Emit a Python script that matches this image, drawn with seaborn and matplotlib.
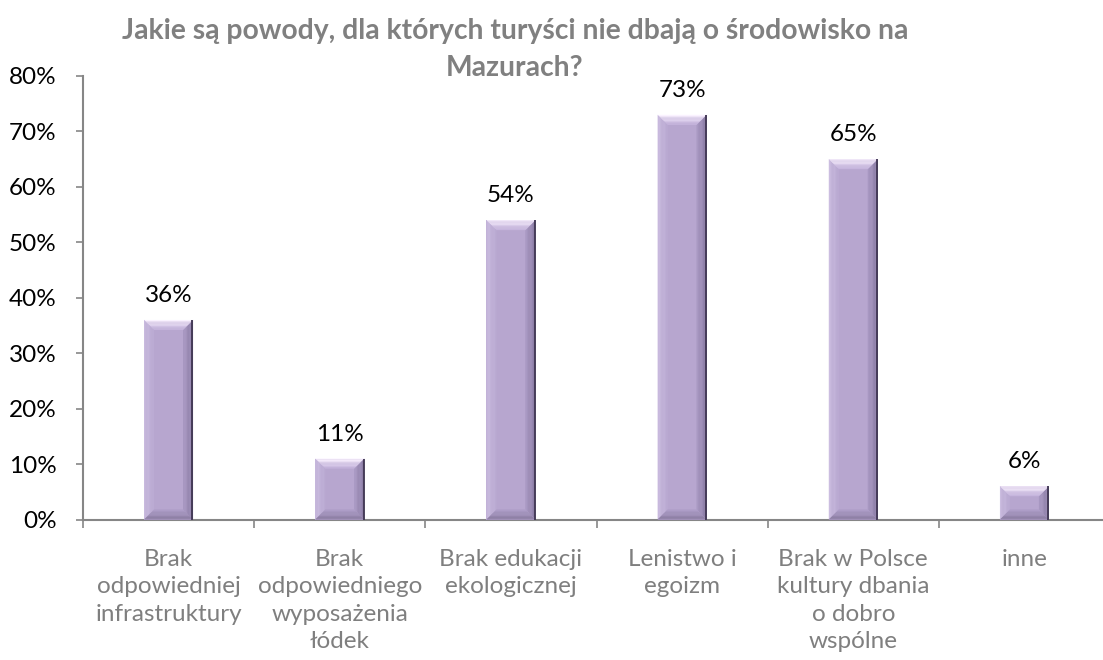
import numpy as np
import pandas as pd
import matplotlib
matplotlib.use("Agg")
import matplotlib.pyplot as plt
from matplotlib.patches import Polygon
from matplotlib.colors import to_rgb
from matplotlib.ticker import FixedLocator, FuncFormatter
import seaborn as sns

# --- data -------------------------------------------------------------
categories = [
    "Brak\nodpowiedniej\ninfrastruktury",
    "Brak\nodpowiedniego\nwyposażenia\nłódek",
    "Brak edukacji\nekologicznej",
    "Lenistwo i\negoizm",
    "Brak w Polsce\nkultury dbania\no dobro\nwspólne",
    "inne",
]
percent = [36, 11, 54, 73, 65, 6]
y_ticks = [0, 10, 20, 30, 40, 50, 60, 70, 80]
title_lines = ["Jakie są powody, dla których turyści nie dbają o środowisko na",
               "Mazurach?"]

df = pd.DataFrame({"powod": categories, "procent": percent})

# --- style ------------------------------------------------------------
sns.set_theme(style="white")
plt.rcParams["font.family"] = ["Lato", "DejaVu Sans"]

FACE = "#B7A6CF"
AXIS_GREY = "#868686"
LABEL_GREY = "#7F7F7F"
FS = 17.5

fig = plt.figure(figsize=(11.03, 6.60), dpi=100)
ax = fig.add_axes([83 / 1103, 140.5 / 660, 1027 / 1103, 443.5 / 660])

sns.barplot(data=df, x="powod", y="procent", color=FACE, width=0.286,
            saturation=1, edgecolor="none", linewidth=0, ax=ax)

ax.set_xlim(-0.5, len(categories) - 0.5)
ax.set_ylim(0, 80)
ax.set_xlabel("")
ax.set_ylabel("")

# y axis: percent ticks pointing outward
ax.yaxis.set_major_locator(FixedLocator(y_ticks))
ax.yaxis.set_major_formatter(FuncFormatter(lambda v, _: f"{v:.0f}%"))
ax.tick_params(axis="y", which="major", direction="out", length=5, width=1.2,
               color=AXIS_GREY, labelsize=FS, labelcolor="black", pad=14,
               left=True)

# x axis: labels at category centres, tick marks between categories
ax.set_xticks(range(len(categories)))
ax.set_xticklabels(categories, color=LABEL_GREY, fontsize=FS, linespacing=1.36,
                   va="top")
ax.tick_params(axis="x", which="major", length=0, pad=21.5)
ax.set_xticks(np.arange(-0.5, len(categories) + 0.5, 1.0), minor=True)
ax.tick_params(axis="x", which="minor", direction="out", length=6, width=1.2,
               color=AXIS_GREY, bottom=True)

for side in ("top", "right"):
    ax.spines[side].set_visible(False)
for side in ("left", "bottom"):
    ax.spines[side].set_color(AXIS_GREY)
    ax.spines[side].set_linewidth(1.5)
ax.spines["bottom"].set_zorder(0.5)

# --- bevelled bar faces -------------------------------------------------
fig.canvas.draw()
to_px = ax.transData.transform
to_data = ax.transData.inverted().transform


def mix(c1, c2, t):
    a, b = np.array(to_rgb(c1)), np.array(to_rgb(c2))
    return tuple(a + (b - a) * t)


def strip_polys(px0, py0, px1, py1, side, d0, d1):
    """Trapezoid slice of a bevel between depths d0 and d1 (pixels)."""
    if side == "top":
        return [(px0 + d0, py1 - d0), (px1 - d0, py1 - d0),
                (px1 - d1, py1 - d1), (px0 + d1, py1 - d1)]
    if side == "bottom":
        return [(px0 + d0, py0 + d0), (px1 - d0, py0 + d0),
                (px1 - d1, py0 + d1), (px0 + d1, py0 + d1)]
    if side == "left":
        return [(px0 + d0, py0 + d0), (px0 + d0, py1 - d0),
                (px0 + d1, py1 - d1), (px0 + d1, py0 + d1)]
    return [(px1 - d0, py0 + d0), (px1 - d0, py1 - d0),
            (px1 - d1, py1 - d1), (px1 - d1, py0 + d1)]


bevel_colors = {
    "left": ("#CBBDE0", "#BBABD3"),
    "right": ("#8A7BA3", "#A797C1"),
    "bottom": ("#8A7CA1", "#AC9CC6"),
    "top": ("#FAF2FF", "#C6B5DD"),
}

for bar in list(ax.patches):
    x0, w, h = bar.get_x(), bar.get_width(), bar.get_height()
    (px0, py0), (px1, py1) = to_px((x0, 0)), to_px((x0 + w, h))
    bev = min(10.0, (py1 - py0) / 2.0, (px1 - px0) / 2.0)
    steps = 8
    for side, (c_out, c_in) in bevel_colors.items():
        for i in range(steps):
            d0, d1 = bev * i / steps, bev * (i + 1) / steps
            pts = to_data(strip_polys(px0, py0, px1, py1, side, d0, d1))
            ax.add_patch(Polygon(pts, closed=True,
                                 facecolor=mix(c_out, c_in, i / (steps - 1)),
                                 edgecolor="none", zorder=3))
    # dark outer edge on the shaded side
    edge = to_data([(px1 - 0.6, py0), (px1 - 0.6, py1)])
    ax.plot(edge[:, 0], edge[:, 1], color="#3F3652", lw=1.3, zorder=4,
            solid_capstyle="butt")

# --- value labels -------------------------------------------------------
for i, v in enumerate(percent):
    ax.annotate(f"{v}%", (i, v), xytext=(0, 17.5), textcoords="offset points",
                ha="center", va="center", fontsize=FS, color="black")

# --- title (two centred lines) -----------------------------------------
for line, y_px in zip(title_lines, (31, 68)):
    fig.text(515 / 1103, 1 - y_px / 660, line, ha="center", va="center",
             fontsize=20.3, fontweight="bold", color="#808080")

fig.savefig("out.png", dpi=100)
